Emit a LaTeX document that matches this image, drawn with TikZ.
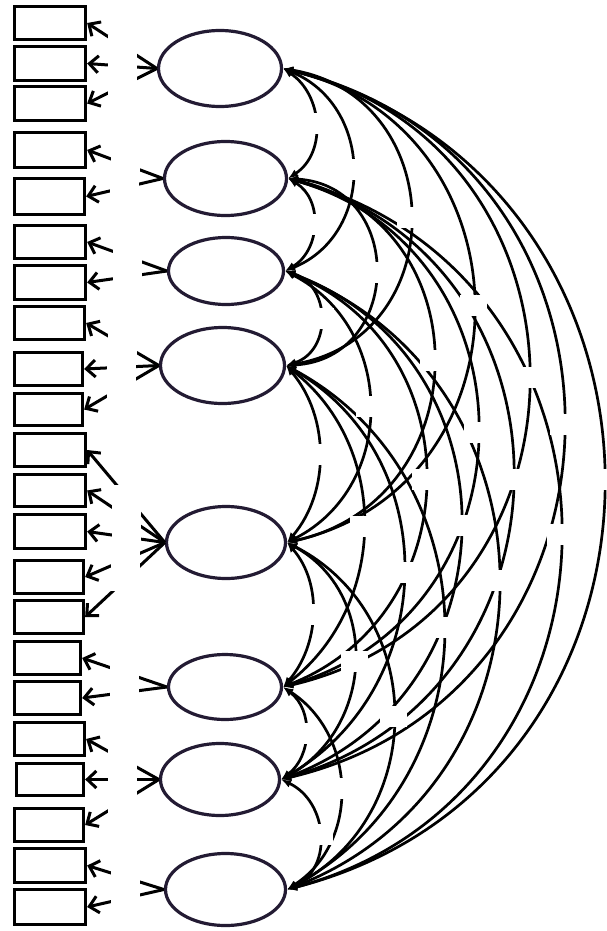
\documentclass[tikz,border=0pt]{standalone}
\usetikzlibrary{arrows.meta,shapes.geometric,calc}
\definecolor{ebord}{HTML}{231B33}
\begin{document}
\begin{tikzpicture}[x=1pt,y=-1pt,
  indbox/.style={draw=black,line width=3.3pt,inner sep=0pt,outer sep=1.65pt},
  latell/.style={ellipse,draw=ebord,line width=3.2pt,inner sep=0pt,outer sep=1.6pt},
  loadarr/.style={line width=3pt,-{Straight Barb[length=9pt,width=17pt]}},
  covarc/.style={line width=2.7pt,{Latex[length=10pt,width=8pt]}-{Latex[length=10pt,width=8pt]}},
  lblgap/.style={fill=white,draw=none,inner sep=0pt,minimum width=29pt,minimum height=22pt}]
\useasboundingbox (0,0) rectangle (606,931);
% observed indicators
\foreach \n/\cx/\cy/\w/\h in {
  1/50/23/71/33, 2/50/63.5/71/34, 3/50/103.5/71/34, 4/50/150/71/35,
  5/49.5/196.5/70/36, 6/50/242/71/33, 7/50/282.5/71/34, 8/49.5/323/70/33,
  9/48.5/369/68/33, 10/48.5/409.5/68/32, 11/50/450/71/33, 12/50/490.5/71/32,
  13/50/531.5/71/34, 14/49/577/69/33, 15/49/617/69/33, 16/47.5/658/66/33,
  17/47.5/698/66/33, 18/49.5/739/70/33, 19/50/779.5/67/32, 20/49/825/69/33,
  21/50/865.5/71/34, 22/50/907/71/35}
  \node[indbox,minimum width=\w pt,minimum height=\h pt] (r\n) at (\cx,\cy) {};
% latent factors
\foreach \n/\cx/\cy/\w/\h in {
  1/220/68.5/123/76, 2/225.5/178.5/122/74, 3/226/271/115/67, 4/222.5/365.5/124/76,
  5/226/542.5/119/72, 6/225/687/113/65, 7/220/779.5/119/72, 8/225.5/889.5/120/72}
  \node[latell,minimum width=\w pt,minimum height=\h pt] (e\n) at (\cx,\cy) {};
% loadings
\foreach \e/\r in {1/1,1/2,1/3,2/4,2/5,3/6,3/7,4/8,4/9,4/10,5/11,5/12,5/13,5/14,5/15,
  6/16,6/17,7/18,7/19,7/20,8/21,8/22}
  \draw[loadarr] (e\e.west) -- (r\r.east);
% covariances
\def\EX{{0,283,288,285,286,287,283,281,287}}
\def\EY{{0,68.5,178.5,271,365.5,542.5,687,779.5,889.5}}
\def\covlist{1/2/315,1/3/352,1/4/410,1/5/473,1/6/528,1/7/563,1/8/603,
  2/3/313,2/4/375,2/5/433,2/6/477,2/7/512,2/8/560,
  3/4/320,3/5/369,3/6/425,3/7/460,3/8/498,
  4/5/319,4/6/363,4/7/403,4/8/443,
  5/6/312,5/7/354,5/8/393,6/7/305,6/8/340,7/8/319}
\foreach \i/\j/\ax in \covlist {
  \pgfmathsetmacro\xa{\EX[\i]}
  \pgfmathsetmacro\ya{\EY[\i]}
  \pgfmathsetmacro\xb{\EX[\j]}
  \pgfmathsetmacro\yb{\EY[\j]}
  \pgfmathsetmacro\hh{(\yb-\ya)/2}
  \pgfmathsetmacro\ss{\ax-(\xa+\xb)/2}
  \pgfmathsetmacro\ca{\ss/0.75}
  \pgfmathsetmacro\cb{2/3*(\hh-\ss*(\ss/\hh))}
  \draw[covarc] (e\i.east) .. controls ({\xa+\ca},{\ya+\cb}) and ({\xb+\ca},{\yb-\cb}) .. (e\j.east);
}
% label gaps
\foreach \e/\r in {1/1,1/2,1/3,2/4,2/5,3/6,3/7,4/8,4/9,4/10,5/11,5/12,5/13,5/14,5/15,
  6/16,6/17,7/18,7/19,7/20,8/21,8/22}
  \node[lblgap] (gl\r) at ($(e\e.west)!0.5!(r\r.east)$) {};
\foreach \i/\j/\ax in \covlist {
  \pgfmathsetmacro\ya{\EY[\i]}
  \pgfmathsetmacro\yb{\EY[\j]}
  \node[lblgap,minimum width=27pt,minimum height=21pt] (gc\i\j) at (\ax,{(\ya+\yb)/2}) {};
}
\end{tikzpicture}
\end{document}
